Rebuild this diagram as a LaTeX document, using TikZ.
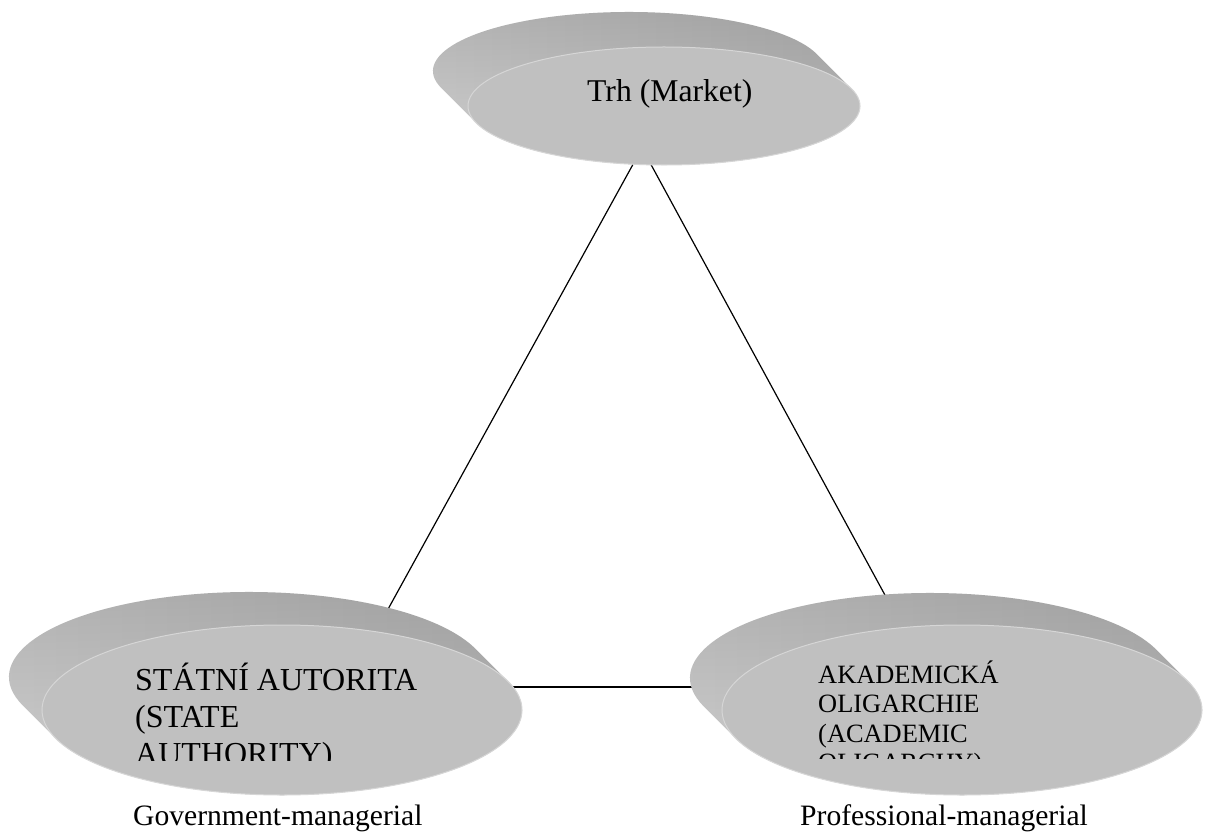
\documentclass[tikz,border=0pt]{standalone}
\usepackage{fontspec}
\setmainfont{Liberation Serif}
\definecolor{frontgray}{RGB}{192,192,192}
\definecolor{backdark}{RGB}{158,158,158}
\definecolor{backlight}{RGB}{204,204,204}
\definecolor{backright}{RGB}{178,178,178}
\definecolor{rimgray}{RGB}{214,214,214}
\tikzset{
  backshade/.style={left color=backlight, middle color=backdark, right color=backright},
  backtop/.style={top color=black, bottom color=white, opacity=0.12},
  frontdisc/.style={fill=frontgray, draw=rimgray, line width=1pt},
  link/.style={draw=black, line width=1.2pt},
  lbl/.style={anchor=base west, inner sep=0pt, text=black},
}
% name, cx, cy, rx, ry, depth
\newcommand\discshape[6]{%
  \pgfmathsetmacro\discang{atan(#5/#4)}%
  \coordinate (#1) at (#2,#3);
  \shade[backshade] ({#2+#4*cos(\discang+180)},{#3+#5*sin(\discang+180)})
    -- ++(-#6,#6)
    arc[start angle=\discang+180, end angle=\discang, x radius=#4, y radius=#5]
    -- ++(#6,-#6)
    arc[start angle=\discang, end angle=\discang-180, x radius=#4, y radius=#5]
    -- cycle;
  \shade[backtop] ({#2+#4*cos(\discang+180)},{#3+#5*sin(\discang+180)})
    -- ++(-#6,#6)
    arc[start angle=\discang+180, end angle=\discang, x radius=#4, y radius=#5]
    -- ++(#6,-#6)
    arc[start angle=\discang, end angle=\discang-180, x radius=#4, y radius=#5]
    -- cycle;
  \path[frontdisc] (#1) ellipse[x radius=#4, y radius=#5];
}
\begin{document}
\begin{tikzpicture}[x=1pt,y=1pt]
\useasboundingbox (0,0) rectangle (1220,831);
\fill[white] (0,0) rectangle (1220,831);
% connectors (drawn first, covered by discs)
\coordinate (apex) at (642,683);
\coordinate (stateend) at (338,131);
\coordinate (acadend) at (942,131);
\coordinate (stateside) at (338,144);
\coordinate (acadside) at (942,144);
\draw[link] (apex) -- (stateend);
\draw[link] (apex) -- (acadend);
\draw[link] (stateside) -- (acadside);
% discs
\discshape{market}{664}{725}{196}{59}{35}
\discshape{state}{282}{121}{240}{85}{33}
\discshape{academic}{962}{121}{240}{85}{32}
% texts
\node[lbl, font=\fontsize{31.7}{36}\selectfont] (markettext) at (587,729) {Trh (Market)};
\begin{scope}
  \clip (100,71) rectangle (520,260);
  \node[lbl, font=\fontsize{32}{37}\selectfont] (statetext) at (135,141)
    {\begin{tabular}[t]{@{}l@{}}STÁTNÍ AUTORITA\\(STATE\\AUTHORITY)\end{tabular}};
\end{scope}
\begin{scope}
  \clip (790,73) rectangle (1200,260);
  \node[lbl, font=\fontsize{26.4}{29.5}\selectfont] (acadtext) at (818,148)
    {\begin{tabular}[t]{@{}l@{}}AKADEMICKÁ\\OLIGARCHIE\\(ACADEMIC\\OLIGARCHY)\end{tabular}};
\end{scope}
\node[lbl, font=\fontsize{29.6}{36}\selectfont] (govlabel) at (133,6) {Government-managerial};
\node[lbl, font=\fontsize{29.6}{36}\selectfont] (proflabel) at (800,6) {Professional-managerial};
\end{tikzpicture}
\end{document}
